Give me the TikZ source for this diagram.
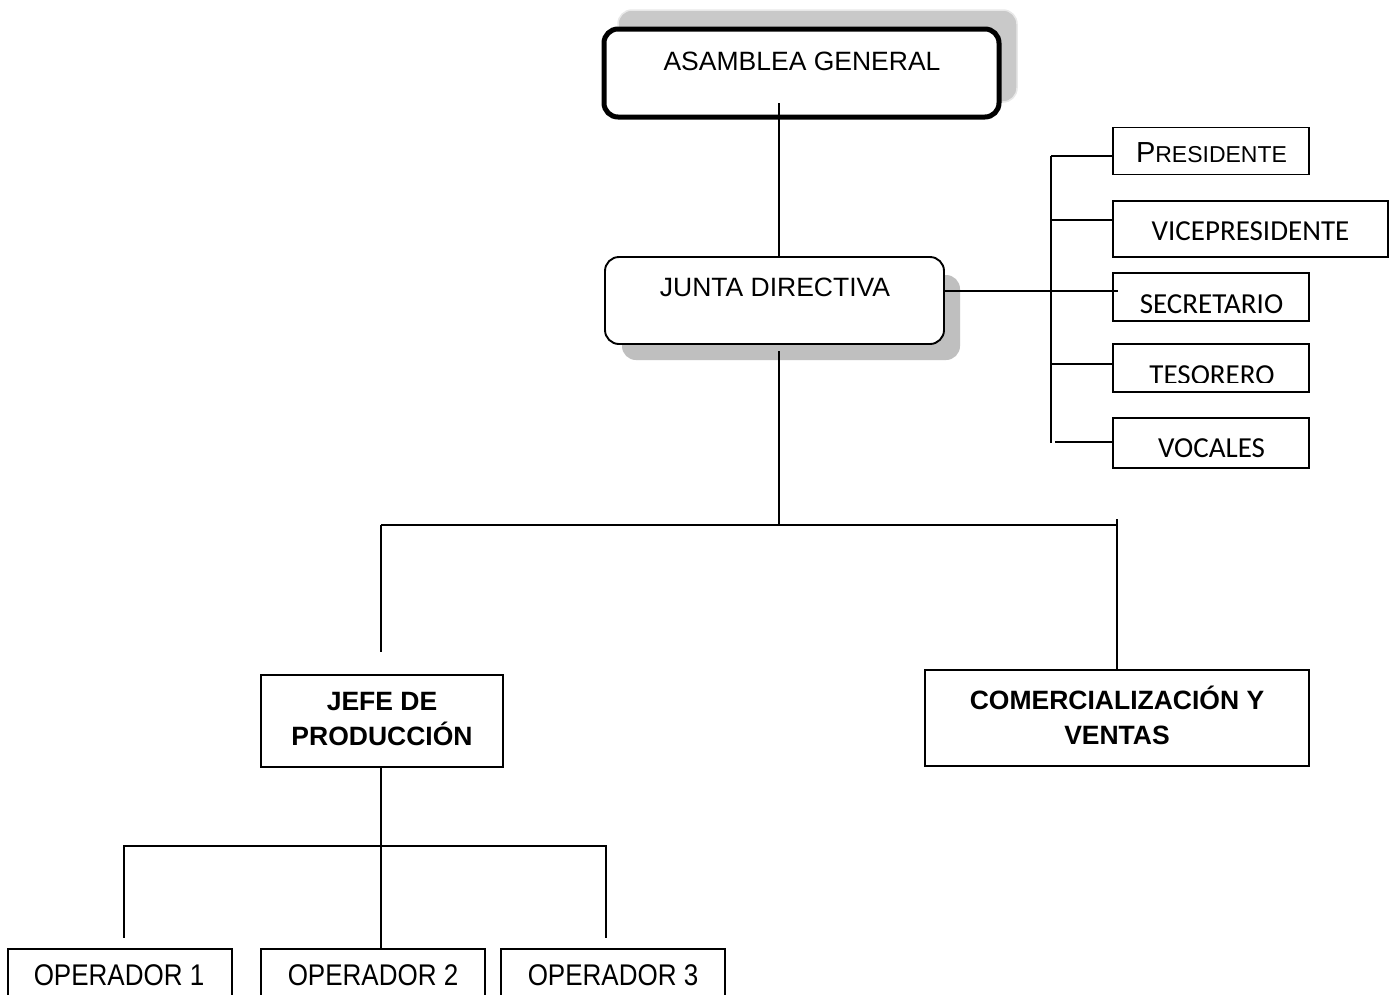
\documentclass[tikz,border=0pt]{standalone}
\usepackage{fontspec}
\setmainfont{Liberation Sans}
\newfontfamily\calfont{Carlito}
\begin{document}
\begin{tikzpicture}[x=1pt,y=-1pt,
  conn/.style={line width=1.9pt, line cap=rect},
  sqbox/.style={draw, line width=1.9pt, inner sep=0pt, fill=white},
  rbox/.style={draw, line width=1.9pt, rounded corners=14pt, inner sep=0pt, fill=white},
  shadowbox/.style={rounded corners=14pt, inner sep=0pt, fill=black!25},
  maintxt/.style={font=\fontsize{26.5}{32}\selectfont, anchor=base, inner sep=0pt},
  boldtxt/.style={font=\fontsize{26.5}{32}\selectfont\bfseries, anchor=base, inner sep=0pt},
  caltxt/.style={font=\calfont\fontsize{29}{34}\selectfont, anchor=base, inner sep=0pt},
]
\useasboundingbox (0,0) rectangle (1395,994);
\clip (0,0) rectangle (1395,994);
\fill[white] (0,0) rectangle (1395,994);

% ---- Asamblea general
\node[shadowbox, fill=black!21, draw=black!9, line width=1.5pt, minimum width=399pt, minimum height=92pt] (asamsh) at (817.5,56) {};
\node[rbox, line width=5pt, minimum width=395pt, minimum height=88pt] (asam) at (801.5,73) {};
\node[maintxt] (asamt) at (802,70) {ASAMBLEA GENERAL};

% ---- Junta directiva
\node[shadowbox, minimum width=338pt, minimum height=85pt] (juntash) at (791,317.5) {};
\node[rbox, minimum width=339pt, minimum height=87pt] (junta) at (774.5,300.5) {};
\node[maintxt] (juntat) at (775,296) {JUNTA DIRECTIVA};

\coordinate (a1) at (779,104);
\draw[conn] (a1) -- (a1 |- junta.north);
\coordinate (j1) at (779,352);
\coordinate (hub) at (779,525);
\draw[conn] (j1) -- (hub);

% ---- right side boxes
\node[sqbox, minimum width=196pt, minimum height=47pt] (pres) at (1211,151) {};
\node[sqbox, minimum width=275pt, minimum height=56pt] (vice) at (1250.5,229) {};
\node[sqbox, minimum width=196pt, minimum height=48pt] (secr) at (1211,297) {};
\node[sqbox, minimum width=196pt, minimum height=48pt] (teso) at (1211,368) {};
\node[sqbox, minimum width=196pt, minimum height=50pt] (voca) at (1211,443) {};

\node[anchor=base, inner sep=0pt] (prest) at (1211.5,162)
  {\fontsize{29}{34}\selectfont P\fontsize{23}{30}\selectfont RESIDENTE};
\node[caltxt] (vicet) at (1250.5,240) {VICEPRESIDENTE};
\node[caltxt] (secrt) at (1211.5,313) {SECRETARIO};
\begin{scope}
  \clip (1113,344) rectangle (1309,382);
  \node[caltxt] (tesot) at (1212,384) {TESORERO};
\end{scope}
\node[caltxt] (vocat) at (1211.5,457) {VOCALES};

\coordinate (jr) at (944,291);
\coordinate (jre) at (1118,291);
\draw[conn, line cap=butt] (jr) -- (jre);
\coordinate (bt) at (1051,156);
\coordinate (bb) at (1051,443);
\draw[conn, line cap=butt] (bt) -- (bb);
\draw[conn, line cap=butt] (bt) -- (bt -| pres.west);
\coordinate (bv) at (1051,220);
\draw[conn, line cap=butt] (bv) -- (bv -| vice.west);
\coordinate (bte) at (1051,364);
\draw[conn, line cap=butt] (bte) -- (bte -| teso.west);
\coordinate (bvo) at (1055,442);
\draw[conn, line cap=butt] (bvo) -- (bvo -| voca.west);

% ---- second level
\node[sqbox, minimum width=242pt, minimum height=92pt] (jefe) at (382,721) {};
\node[boldtxt] (jefet1) at (382,710) {JEFE DE};
\node[boldtxt] (jefet2) at (382,745) {PRODUCCIÓN};

\node[sqbox, minimum width=384pt, minimum height=96pt] (come) at (1117,718) {};
\node[boldtxt] (comet1) at (1117,709) {COMERCIALIZACIÓN Y};
\node[boldtxt] (comet2) at (1117,744) {VENTAS};

\coordinate (hl) at (381,525);
\coordinate (hr) at (1117,525);
\coordinate (hrt) at (1117,519);
\coordinate (lend) at (381,652);
\draw[conn, line cap=butt] (hl) -- (hr);
\draw[conn, line cap=butt] (hl) -- (lend);
\draw[conn, line cap=butt] (hrt) -- (come.north);

% ---- operators
\node[sqbox, minimum width=224pt, minimum height=62pt] (op1) at (120,980) {};
\node[sqbox, minimum width=224pt, minimum height=62pt] (op2) at (373,980) {};
\node[sqbox, minimum width=224pt, minimum height=62pt] (op3) at (613,980) {};
\node[maintxt, font=\fontsize{26}{32}\selectfont] (op1t) at (119,985) {\scalebox{1}[1.15]{OPERADOR 1}};
\node[maintxt, font=\fontsize{26}{32}\selectfont] (op2t) at (373,985) {\scalebox{1}[1.15]{OPERADOR 2}};
\node[maintxt, font=\fontsize{26}{32}\selectfont] (op3t) at (613,985) {\scalebox{1}[1.15]{OPERADOR 3}};

\coordinate (o0) at (381,846);
\coordinate (ol) at (124,846);
\coordinate (or) at (606,846);
\coordinate (ole) at (124,938);
\coordinate (ore) at (606,938);
\draw[conn, line cap=butt] (jefe.south -| o0) -- (o0);
\draw[conn, line cap=rect] (ol) -- (or);
\draw[conn, line cap=butt] (ol) -- (ole);
\draw[conn, line cap=butt] (or) -- (ore);
\draw[conn, line cap=butt] (o0) -- (op2.north -| o0);
\end{tikzpicture}
\end{document}
